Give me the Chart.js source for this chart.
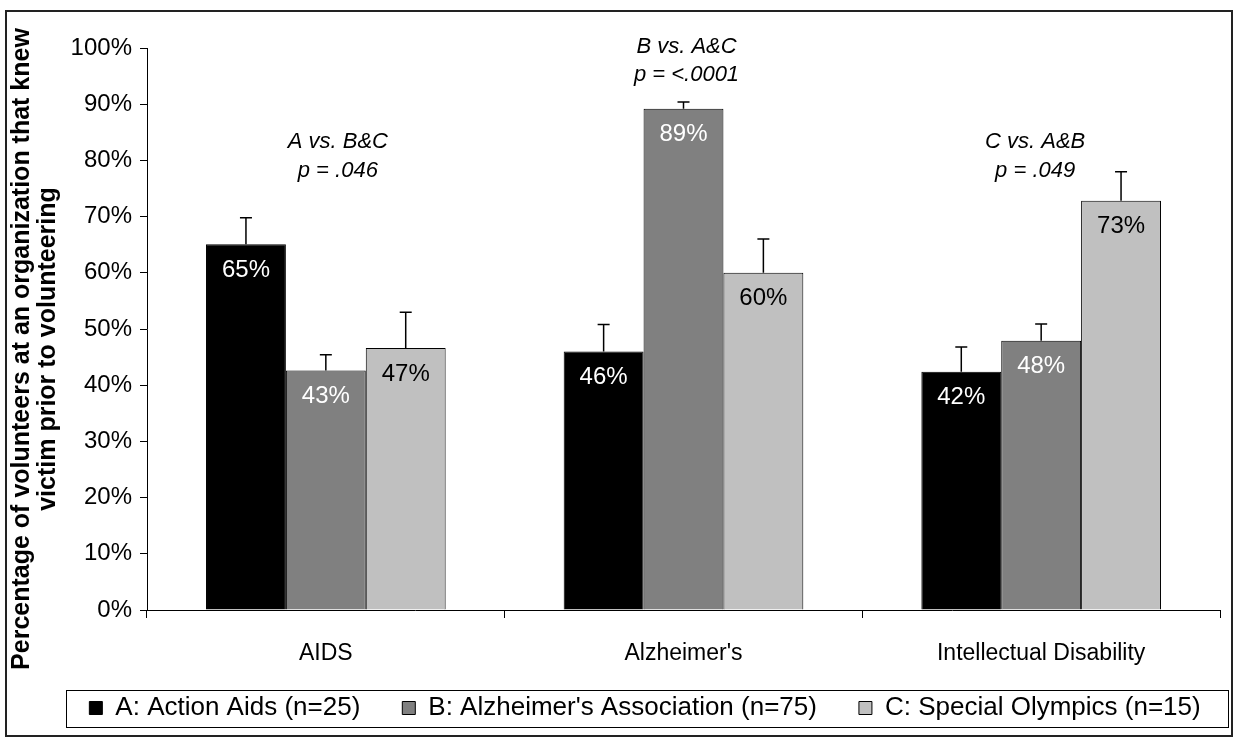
<!DOCTYPE html>
<html>
<head>
<meta charset="utf-8">
<script src="https://cdn.jsdelivr.net/npm/chart.js@4.4.0/dist/chart.umd.min.js"></script>
<style>
  html, body { margin: 0; padding: 0; background: #fff; }
</style>
</head>
<body>
<canvas id="myChart" width="1235" height="740"></canvas>
<script>
const categories = ['AIDS', "Alzheimer's", 'Intellectual Disability'];
const seriesNames = ['A: Action Aids (n=25)', "B: Alzheimer's Association (n=75)", 'C: Special Olympics (n=15)'];
const actionAids = [65.1, 46.0, 42.4];
const alzheimersAssoc = [42.6, 89.2, 47.9];
const specialOlympics = [46.6, 60.0, 72.8];
// upper error bars (percentage points)
const actionAidsErr = [4.7, 4.8, 4.4];
const alzheimersAssocErr = [2.8, 1.2, 3.0];
const specialOlympicsErr = [6.4, 6.0, 5.2];
const comparisons = ['A vs. B&C', 'B vs. A&C', 'C vs. A&B'];
const pValues = ['p = .046', 'p = <.0001', 'p = .049'];
const yTitle = ['Percentage of volunteers at an organization that knew', 'victim prior to volunteering'];

const FONT = "'Liberation Sans', Arial, sans-serif";
const errors = [actionAidsErr, alzheimersAssocErr, specialOlympicsErr];
const labelColors = ['#ffffff', '#ffffff', '#000000'];

const extras = {
  id: 'extras',
  beforeDraw(chart) {
    const ctx = chart.ctx;
    ctx.save();
    ctx.fillStyle = '#fff';
    ctx.fillRect(0, 0, chart.width, chart.height);
    ctx.restore();
  },
  afterLayout(chart) {
    // move the legend row: centred on x=645, text middle at y=708
    const lg = chart.legend;
    lg.left = -10; lg.right = 1300; lg.width = lg.right - lg.left;
    lg.top = 708 - lg.options.labels.padding - 13;
    lg.bottom = 740; lg.height = lg.bottom - lg.top;
  },
  afterDatasetsDraw(chart) {
    const ctx = chart.ctx;
    const y = chart.scales.y;
    ctx.save();
    chart.data.datasets.forEach((ds, i) => {
      chart.getDatasetMeta(i).data.forEach((bar, j) => {
        const top = y.getPixelForValue(ds.data[j] + errors[i][j]);
        ctx.strokeStyle = '#000';
        ctx.lineWidth = 1.5;
        ctx.beginPath();
        ctx.moveTo(bar.x, bar.y);
        ctx.lineTo(bar.x, top);
        ctx.moveTo(bar.x - 6, top);
        ctx.lineTo(bar.x + 6, top);
        ctx.stroke();
        ctx.fillStyle = labelColors[i];
        ctx.font = '24px ' + FONT;
        ctx.textAlign = 'center';
        ctx.textBaseline = 'middle';
        ctx.fillText(Math.round(ds.data[j]) + '%', bar.x, bar.y + 26);
      });
    });
    // comparison notes above each group
    const levels = [[83.3, 78.1], [100.2, 95.2], [83.3, 78.1]];
    const shift = [12, 3, -6];
    ctx.fillStyle = '#000';
    ctx.font = 'italic 22px ' + FONT;
    categories.forEach((c, k) => {
      const x = chart.scales.x.getPixelForValue(k) + shift[k];
      ctx.fillText(comparisons[k], x, y.getPixelForValue(levels[k][0]));
      ctx.fillText(pValues[k], x, y.getPixelForValue(levels[k][1]));
    });
    ctx.restore();
  },
  afterDraw(chart) {
    const ctx = chart.ctx;
    ctx.save();
    // y axis title, both lines centred on the same point
    ctx.fillStyle = '#000';
    ctx.font = 'bold 25px ' + FONT;
    ctx.textAlign = 'center';
    ctx.textBaseline = 'middle';
    [[22, 349], [48, 349]].forEach((p, i) => {
      ctx.save();
      ctx.translate(p[0], p[1]);
      ctx.rotate(-Math.PI / 2);
      ctx.fillText(yTitle[i], 0, 0);
      ctx.restore();
    });
    // legend box
    const lg = chart.legend;
    const pad = lg.options.labels.padding;
    const lw = lg.lineWidths[0] - pad;
    const cx = (lg.left + lg.right) / 2;
    ctx.strokeStyle = '#000';
    ctx.lineWidth = 1;
    ctx.strokeRect(Math.round(cx - lw / 2 - 23) + 0.5, 690.5, Math.round(lw + 51), 37);
    // outer frame
    ctx.strokeStyle = '#222';
    ctx.lineWidth = 2;
    ctx.strokeRect(6, 11, 1226, 725);
    ctx.restore();
  }
};

new Chart(document.getElementById('myChart').getContext('2d'), {
  type: 'bar',
  data: {
    labels: categories,
    datasets: [
      { label: seriesNames[0], data: actionAids, backgroundColor: '#000000' },
      { label: seriesNames[1], data: alzheimersAssoc, backgroundColor: '#808080' },
      { label: seriesNames[2], data: specialOlympics, backgroundColor: '#c0c0c0' }
    ]
  },
  options: {
    responsive: false,
    animation: false,
    devicePixelRatio: 1,
    datasets: { bar: { borderColor: '#000', borderWidth: 1, categoryPercentage: 0.67, barPercentage: 1.0 } },
    layout: { padding: { top: 48, right: 15, bottom: 10, left: 0 } },
    plugins: {
      legend: {
        position: 'bottom',
        maxHeight: 43,
        labels: { boxWidth: 13, boxHeight: 13, padding: 42, color: '#000', font: { family: FONT, size: 26 } }
      },
      tooltip: { enabled: false }
    },
    scales: {
      x: {
        afterFit: s => { s.height = 77; },
        grid: { offset: true, drawOnChartArea: false, color: '#000', tickLength: 8 },
        border: { color: '#000' },
        ticks: { color: '#000', padding: 22, font: { family: FONT, size: 23 } }
      },
      y: {
        min: 0, max: 100,
        afterFit: s => { s.width = 147; },
        grid: { drawOnChartArea: false, color: '#000', tickLength: 7 },
        border: { color: '#000' },
        ticks: { stepSize: 10, color: '#000', padding: 8, font: { family: FONT, size: 24 }, callback: v => v + '%' }
      }
    }
  },
  plugins: [extras]
});
</script>
</body>
</html>
